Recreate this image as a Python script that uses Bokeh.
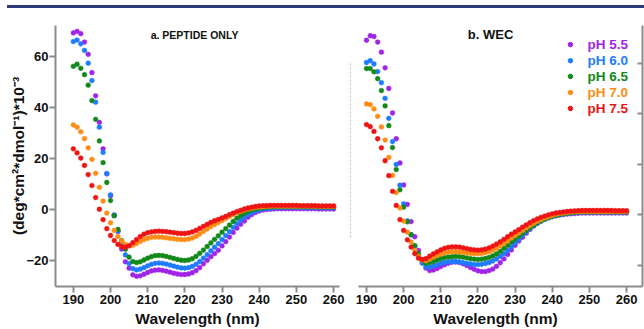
from bokeh.plotting import figure
from bokeh.models import Range1d, FixedTicker, LinearAxis, Label, Div
from bokeh.layouts import column, row
from bokeh.embed import file_html
from bokeh.resources import INLINE
from bokeh.core.properties import value

# ---------------- data ----------------
wavelength = list(range(190, 261))
x_ticks = [190, 200, 210, 220, 230, 240, 250, 260]
y_ticks = [-20, 0, 20, 40, 60]
series_labels = ["pH 5.5", "pH 6.0", "pH 6.5", "pH 7.0", "pH 7.5"]
series_colors = ["#a024e8", "#1f7bff", "#12891a", "#ff8c14", "#ee1414"]

# a. Peptide only
a_ph55 = [69.3, 69.9, 69.0, 65.7, 60.9, 53.7, 44.6, 34.2, 23.8, 14.0, 5.4, -2.4, -8.6, -15.5, -20.5, -23.0,
          -25.6, -26.2, -26.0, -25.4, -24.7, -24.1, -23.8, -23.7, -23.9, -24.2, -24.6, -25.0, -25.3, -25.5,
          -25.5, -25.3, -24.8, -24.0, -22.8, -21.3, -19.9, -18.5, -17.3, -16.0, -14.3, -12.6, -10.8, -9.0,
          -7.3, -5.8, -4.5, -3.0, -2.0, -1.2, -0.6, -0.2, 0.0, 0.1, 0.2, 0.3, 0.3, 0.3, 0.3, 0.3, 0.3, 0.3,
          0.3, 0.3, 0.3, 0.3, 0.2, 0.2, 0.2, 0.2, 0.2]
a_ph60 = [65.9, 66.5, 65.0, 62.4, 57.4, 50.6, 42.1, 32.3, 22.4, 14.1, 5.7, -2.1, -8.5, -13.8, -17.8, -21.2,
          -23.2, -23.7, -23.4, -22.8, -22.1, -21.5, -21.1, -21.0, -21.1, -21.4, -21.8, -22.2, -22.6, -22.9,
          -23.0, -22.8, -22.3, -21.5, -20.4, -19.1, -17.7, -16.2, -14.8, -13.4, -11.8, -10.2, -8.7, -7.0,
          -5.5, -4.2, -3.0, -2.0, -1.2, -0.6, -0.1, 0.2, 0.4, 0.5, 0.6, 0.7, 0.8, 0.8, 0.8, 0.8, 0.8, 0.8,
          0.8, 0.8, 0.8, 0.8, 0.7, 0.7, 0.7, 0.7, 0.7]
a_ph65 = [56.2, 57.0, 55.4, 52.9, 48.8, 42.7, 35.4, 26.9, 18.4, 10.6, 3.5, -2.4, -7.8, -12.2, -15.6, -18.7,
          -20.4, -20.8, -20.5, -19.8, -19.1, -18.5, -18.1, -18.0, -18.1, -18.4, -18.8, -19.2, -19.6, -19.9,
          -20.0, -19.8, -19.3, -18.4, -17.2, -15.9, -14.5, -13.1, -11.7, -10.3, -8.9, -7.5, -6.1, -4.7,
          -3.4, -2.4, -1.5, -0.8, -0.2, 0.2, 0.5, 0.7, 0.9, 1.0, 1.0, 1.1, 1.1, 1.1, 1.1, 1.1, 1.1, 1.1,
          1.1, 1.1, 1.1, 1.1, 1.0, 1.0, 1.0, 1.0, 1.0]
a_ph70 = [33.2, 32.3, 30.5, 27.8, 24.2, 19.7, 14.2, 8.7, 3.3, -1.4, -5.2, -8.2, -10.6, -12.4, -13.7, -14.3,
          -14.0, -13.3, -12.5, -11.8, -11.3, -10.9, -10.8, -10.8, -10.9, -11.1, -11.3, -11.5, -11.7, -11.8,
          -11.8, -11.6, -11.2, -10.5, -9.6, -8.6, -7.6, -6.7, -5.9, -5.1, -4.3, -3.5, -2.7, -2.0,
          -1.3, -0.7, -0.2, 0.2, 0.5, 0.8, 1.0, 1.1, 1.2, 1.3, 1.3, 1.3, 1.3, 1.3, 1.3, 1.3, 1.3, 1.3,
          1.3, 1.3, 1.3, 1.3, 1.2, 1.2, 1.2, 1.2, 1.2]
a_ph75 = [23.8, 22.2, 20.2, 17.3, 13.7, 9.4, 4.7, 0.1, -4.0, -7.5, -10.2, -12.2, -13.7, -14.6, -14.8, -14.2,
          -13.0, -11.8, -10.6, -9.7, -9.1, -8.8, -8.6, -8.5, -8.6, -8.7, -8.9, -9.1, -9.3, -9.4,
          -9.4, -9.2, -8.8, -8.2, -7.4, -6.6, -5.8, -5.0, -4.4, -3.9, -3.3, -2.7, -2.0, -1.4,
          -0.8, -0.3, 0.2, 0.6, 0.9, 1.2, 1.4, 1.5, 1.5, 1.6, 1.6, 1.6, 1.6, 1.6, 1.6, 1.6, 1.6, 1.5,
          1.5, 1.5, 1.5, 1.5, 1.4, 1.4, 1.4, 1.4, 1.4]

# b. WEC
b_ph55 = [69.0, 70.8, 70.5, 68.3, 64.3, 58.1, 49.9, 40.2, 30.0, 20.4, 11.7, 4.0, -2.8, -8.8, -14.2, -18.5,
          -21.2, -22.2, -22.0, -21.4, -20.6, -19.9, -19.3, -18.9, -18.8, -19.0, -19.5, -20.2, -21.0, -21.7,
          -22.3, -22.6, -22.6, -22.2, -21.6, -20.5, -19.1, -17.6, -15.8, -14.0, -12.2, -10.5, -9.0, -7.4,
          -5.9, -4.5, -3.4, -2.5, -1.8, -1.2, -0.8, -0.5, -0.2, 0.0, 0.2, 0.3, 0.4, 0.5, 0.6, 0.6, 0.6, 0.6,
          0.6, 0.6, 0.6, 0.6, 0.6, 0.6, 0.6, 0.6, 0.6]
b_ph60 = [60.2, 60.9, 59.6, 56.6, 52.2, 46.0, 38.1, 28.9, 19.8, 11.6, 4.2, -2.5, -8.0, -12.6, -16.4, -19.3,
          -20.8, -20.8, -20.4, -19.9, -19.4, -19.0, -18.8, -18.6, -18.6, -18.8, -19.1, -19.4, -19.6, -19.8,
          -19.8, -19.7, -19.4, -19.0, -18.4, -17.6, -16.6, -15.5, -14.2, -12.8, -11.3, -9.8, -8.3, -6.9,
          -5.6, -4.5, -3.5, -2.6, -1.9, -1.3, -0.8, -0.4, -0.1, 0.2, 0.4, 0.6, 0.7, 0.8, 0.9, 0.9, 0.9, 0.9,
          0.9, 0.9, 0.9, 0.9, 0.9, 0.9, 0.9, 0.9, 0.9]
b_ph65 = [57.8, 57.8, 56.5, 53.8, 49.1, 43.0, 35.2, 26.5, 17.8, 9.8, 2.9, -2.9, -8.0, -12.3, -15.5, -18.0,
          -19.3, -19.0, -18.6, -18.0, -17.5, -17.1, -16.9, -16.7, -16.6, -16.7, -16.9, -17.2, -17.5, -17.7,
          -17.8, -17.7, -17.4, -17.0, -16.4, -15.6, -14.6, -13.4, -12.2, -10.9, -9.7, -8.6, -7.4, -6.3,
          -5.2, -4.2, -3.3, -2.5, -1.8, -1.2, -0.7, -0.3, 0.0, 0.3, 0.5, 0.7, 0.8, 0.9, 1.0, 1.0, 1.0, 1.0,
          1.0, 1.0, 1.0, 1.0, 1.0, 1.0, 1.0, 1.0, 1.0]
b_ph70 = [43.8, 43.5, 41.8, 38.9, 34.7, 29.5, 22.6, 15.5, 8.7, 2.6, -2.6, -7.0, -10.9, -14.2, -16.6, -18.0,
          -18.3, -17.7, -16.9, -16.2, -15.6, -15.2, -14.9, -14.7, -14.7, -14.8, -15.0, -15.2, -15.4, -15.5,
          -15.5, -15.4, -15.1, -14.7, -14.1, -13.3, -12.4, -11.4, -10.4, -9.3, -8.3, -7.3, -6.3, -5.3,
          -4.4, -3.5, -2.7, -2.0, -1.3, -0.8, -0.3, 0.1, 0.4, 0.6, 0.8, 1.0, 1.1, 1.2, 1.2, 1.2, 1.2, 1.2,
          1.2, 1.2, 1.2, 1.2, 1.2, 1.2, 1.2, 1.2, 1.2]
b_ph75 = [35.6, 34.8, 32.9, 30.0, 26.4, 21.3, 15.4, 9.2, 3.6, -2.0, -6.3, -10.0, -12.9, -15.5, -17.3, -17.8,
          -17.5, -16.5, -15.6, -14.8, -14.0, -13.4, -13.0, -12.8, -12.8, -12.9, -13.2, -13.5, -13.8, -14.0,
          -14.1, -14.0, -13.7, -13.2, -12.5, -11.7, -10.8, -9.8, -8.8, -7.8, -6.9, -6.0, -5.0, -4.1,
          -3.2, -2.4, -1.7, -1.1, -0.6, -0.1, 0.3, 0.6, 0.8, 1.0, 1.2, 1.3, 1.4, 1.5, 1.6, 1.6, 1.6, 1.6,
          1.6, 1.6, 1.6, 1.6, 1.6, 1.5, 1.5, 1.5, 1.5]

a_series = [a_ph55, a_ph60, a_ph65, a_ph70, a_ph75]
b_series = [b_ph55, b_ph60, b_ph65, b_ph70, b_ph75]

# ---------------- styling ----------------
FONT = "Liberation Sans"
AXIS_GREY = "#8c8c8c"


def style_axis(ax):
    ax.axis_line_color = AXIS_GREY
    ax.axis_line_width = 2
    ax.major_tick_line_color = AXIS_GREY
    ax.major_tick_line_width = 2
    ax.minor_tick_line_color = None
    ax.major_tick_out = 6
    ax.major_tick_in = 0
    ax.major_label_standoff = 2
    ax.major_label_text_font = FONT
    ax.major_label_text_font_style = "bold"
    ax.major_label_text_font_size = "13px"
    ax.major_label_text_color = "#111111"
    ax.axis_label_text_font = FONT
    ax.axis_label_text_font_style = "bold"
    ax.axis_label_text_font_size = "15.5px"
    ax.axis_label_text_color = "#111111"
    ax.axis_label_standoff = 3


# ---------------- panel a ----------------
p1 = figure(width=347, height=321, x_range=Range1d(185.2, 261.6), y_range=Range1d(-30.2, 72.2),
            output_backend="svg", toolbar_location=None,
            min_border_left=55, min_border_right=8, min_border_top=17, min_border_bottom=43)
p1.outline_line_color = None
p1.grid.visible = False
p1.xaxis.ticker = FixedTicker(ticks=x_ticks)
p1.yaxis.ticker = FixedTicker(ticks=y_ticks)
p1.xaxis.axis_label = "Wavelength (nm)"
p1.yaxis.axis_label = "(deg*cm²*dmol⁻¹)*10⁻³"
style_axis(p1.xaxis[0])
style_axis(p1.yaxis[0])
p1.yaxis.major_label_standoff = 1
p1.yaxis.axis_label_standoff = -4

for ys, c in zip(a_series, series_colors):
    p1.scatter(wavelength, ys, size=4.8, fill_color=c, line_color=c, line_width=0.5)

p1.add_layout(Label(x=222.6, y=68.6, text="a. PEPTIDE ONLY", text_align="center", text_baseline="middle",
                    text_font=FONT, text_font_style="bold", text_font_size="10.5px", text_color="#111111"))

# ---------------- panel b ----------------
p2 = figure(width=297, height=321, x_range=Range1d(185.15, 264.3), y_range=Range1d(-28.5, 74.85),
            output_backend="svg", toolbar_location=None, y_axis_location=None,
            min_border_left=1, min_border_right=2, min_border_top=17, min_border_bottom=43)
p2.outline_line_color = None
p2.grid.visible = False
p2.xaxis.ticker = FixedTicker(ticks=x_ticks)
p2.xaxis.axis_label = "Wavelength (nm)"
style_axis(p2.xaxis[0])
p2.xaxis.bounds = (187.85, 264.3)

ry = LinearAxis(ticker=FixedTicker(ticks=y_ticks), major_label_overrides={t: "" for t in y_ticks})
style_axis(ry)
ry.major_tick_out = 0
ry.major_tick_in = 5
ry.major_label_standoff = 0
p2.add_layout(ry, "right")

# faint dotted vertical guide at left of panel b
p2.segment(x0=[185.7], y0=[-9.1], x1=[185.7], y1=[60.2], line_color="#b4bcc6", line_width=1, line_dash="2 2")

for ys, c in zip(b_series, series_colors):
    p2.scatter(wavelength, ys, size=4.8, fill_color=c, line_color=c, line_width=0.5)

p2.add_layout(Label(x=223.4, y=71.3, text="b. WEC", text_align="center", text_baseline="middle",
                    text_font=FONT, text_font_style="bold", text_font_size="13px", text_color="#111111"))

# legend (manual, coloured labels)
leg_y = [67.3, 60.9, 54.7, 48.3, 42.0]
p2.scatter([244.9] * 5, leg_y, size=4.5, fill_color=series_colors, line_color=series_colors)
p2.text([249.5] * 5, leg_y, text=series_labels, text_color=series_colors, text_font=value(FONT),
        text_font_style="bold", text_font_size="13.5px", text_baseline="middle", text_align="left")

top_rule = Div(text="", width=637, height=3, margin=(5, 0, 0, 7),
               styles={"background-color": "#2e3a7c"})

layout = column(top_rule, row(p1, p2))

open("out.html", "w").write(file_html(layout, INLINE))
